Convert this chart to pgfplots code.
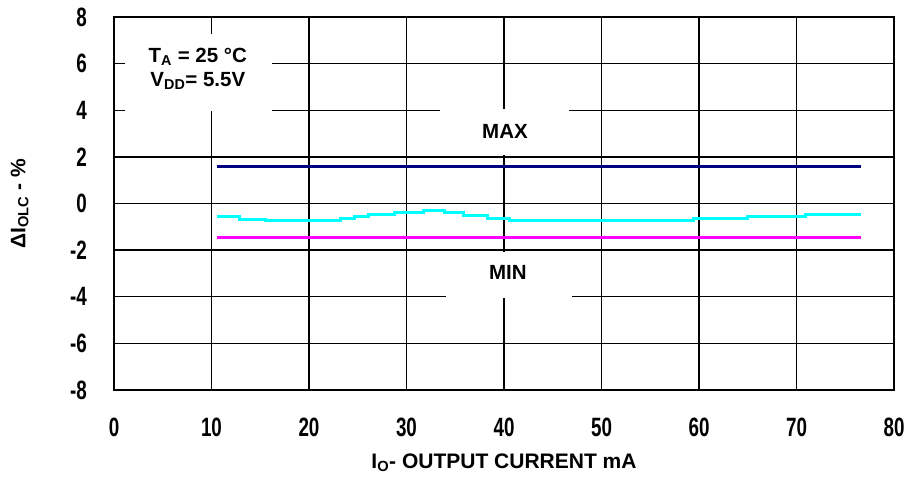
\documentclass[border=0pt]{standalone}
\usepackage{fontspec}
\setmainfont{Liberation Sans}
\newfontfamily\narrowfont[FakeStretch=0.71]{Liberation Sans}
\usepackage{pgfplots}
\pgfplotsset{compat=1.18}
\definecolor{navyline}{RGB}{0,0,128}
\definecolor{magline}{RGB}{255,0,255}
\definecolor{cyanline}{RGB}{0,255,255}
\begin{document}
\begin{tikzpicture}[x=1pt,y=1pt]
\path[use as bounding box] (0,0) rectangle (909,480);
\begin{axis}[
  at={(114pt,90pt)}, anchor=south west,
  scale only axis, width=780pt, height=373pt,
  xmin=0, xmax=80, ymin=-8, ymax=8,
  xtick={0,10,20,30,40,50,60,70,80},
  xticklabels={0,10,20,30,40,50,60,70,80},
  ytick={-8,-6,-4,-2,0,2,4,6,8},
  yticklabels={-8,-6,-4,-2,0,2,4,6,8},
  major tick length=0pt,
  grid=major,
  major grid style={black, line width=1.3pt},
  axis line style={black, line width=1.6pt},
  xticklabel style={font=\narrowfont\bfseries\fontsize{26.5}{30}\selectfont, inner sep=0pt, anchor=north, yshift=-28pt},
  yticklabel style={font=\narrowfont\bfseries\fontsize{26.5}{30}\selectfont, inner sep=0pt, anchor=east, xshift=-27pt},
  xlabel={I\textsubscript{O}- OUTPUT CURRENT mA},
  ylabel={ΔI\textsubscript{OLC} - \%},
  xlabel style={font=\bfseries\fontsize{21}{24}\selectfont, at={(axis description cs:0.5,-0.196)}, anchor=center},
  ylabel style={font=\bfseries\fontsize{21}{24}\selectfont, at={(axis description cs:-0.121,0.5)}, anchor=center, rotate=0},
  clip=false,
]
\fill[white] (axis cs:1.13,7.29) rectangle (axis cs:16.2,3.95);
\fill[white] (axis cs:33.4,4.05) rectangle (axis cs:46.7,2.1);
\fill[white] (axis cs:34.0,-2.08) rectangle (axis cs:47.0,-4.05);
\node[font=\bfseries\fontsize{20.5}{24}\selectfont] at (axis cs:8.6,6.3) {T\textsubscript{A} = 25 °C};
\node[font=\bfseries\fontsize{20.5}{24}\selectfont] at (axis cs:8.6,5.25) {V\textsubscript{DD}= 5.5V};
\node[font=\bfseries\fontsize{20.5}{24}\selectfont] at (axis cs:40.1,3.07) {MAX};
\node[font=\bfseries\fontsize{20.5}{24}\selectfont] at (axis cs:40.4,-2.95) {MIN};
\addplot[navyline, line width=3pt] coordinates {(10.56,1.57) (76.6,1.57)};
\addplot[magline, line width=3pt] coordinates {(10.56,-1.44) (76.6,-1.44)};
\addplot[cyanline, line width=3pt, const plot] coordinates {
(10.56,-0.57) (12.9,-0.67) (15.5,-0.74) (23.2,-0.64) (24.7,-0.55) (26.1,-0.47)
(28.8,-0.38) (31.7,-0.31) (33.9,-0.38) (35.8,-0.52) (38.3,-0.64) (40.6,-0.74)
(59.4,-0.64) (65.0,-0.55) (70.9,-0.47) (76.6,-0.47)};
\end{axis}
\end{tikzpicture}
\end{document}
